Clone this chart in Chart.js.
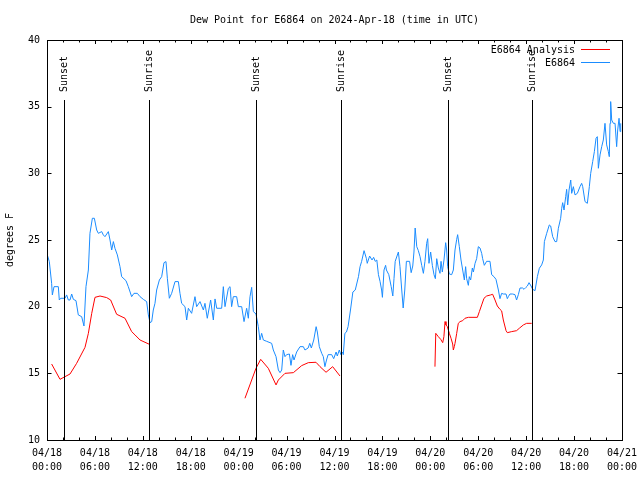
<!DOCTYPE html>
<html>
<head>
<meta charset="utf-8">
<script src="https://cdn.jsdelivr.net/npm/chart.js@4.4.1/dist/chart.umd.min.js"></script>
<style>
  html, body { margin: 0; padding: 0; background: #fff; }
</style>
</head>
<body>
<canvas id="dew-chart" width="640" height="480"></canvas>
<script>
// time axis = hours after 2024-04-18 00:00 UTC
const stationHours = [0, 0.29, 0.58, 0.67, 0.88, 1.42, 1.54, 1.71, 2.25, 2.46, 2.67, 2.88, 3.09, 3.3, 3.63, 3.92, 4.34, 4.63, 4.88, 5.18,
  5.38, 5.68, 5.93, 6.22, 6.43, 6.85, 7.05, 7.26, 7.68, 7.89, 8.1, 8.31, 8.51, 8.81, 9.14, 9.35, 9.89, 10.18, 10.6, 10.89,
  11.31, 11.65, 12.06, 12.48, 12.69, 12.9, 13.11, 13.31, 13.52, 13.73, 14.07, 14.36, 14.65, 14.9, 15.07, 15.32, 15.61, 16.03, 16.45, 16.65,
  16.86, 17.28, 17.49, 17.7, 18.11, 18.53, 18.74, 19.16, 19.58, 19.78, 20.07, 20.49, 20.83, 21.04, 21.25, 21.87, 22.08, 22.29, 22.71, 22.92,
  23.12, 23.33, 23.75, 23.96, 24.38, 24.67, 25.0, 25.21, 25.42, 25.63, 25.84, 26.17, 26.46, 26.67, 26.88, 27.09, 27.51, 28.13, 28.34, 28.68,
  28.97, 29.18, 29.39, 29.59, 29.8, 30.0, 30.35, 30.55, 30.76, 30.93, 31.26, 31.68, 32.1, 32.3, 32.7, 32.9, 33.1, 33.4, 33.7, 33.85,
  34.1, 34.4, 34.6, 34.8, 35.0, 35.2, 35.65, 35.9, 36.2, 36.35, 36.6, 36.8, 37.0, 37.1, 37.3, 37.5, 37.7, 38.0, 38.3, 38.6,
  39.0, 39.2, 39.4, 39.7, 40.0, 40.1, 40.4, 40.7, 40.9, 41.1, 41.3, 41.5, 41.7, 41.9, 42.0, 42.2, 42.4, 42.5, 42.8, 43.1,
  43.3, 43.45, 43.6, 44.0, 44.2, 44.4, 44.6, 44.8, 45.0, 45.4, 45.6, 45.8, 45.95, 46.1, 46.3, 46.5, 46.71, 46.92, 47.13, 47.33,
  47.54, 47.67, 47.83, 48.04, 48.25, 48.46, 48.63, 48.8, 49.0, 49.21, 49.34, 49.5, 49.71, 49.92, 50.04, 50.17, 50.38, 50.67, 50.88, 51.09,
  51.3, 51.42, 51.63, 51.84, 52.05, 52.26, 52.42, 52.55, 52.76, 52.88, 53.05, 53.26, 53.39, 53.6, 53.8, 54.01, 54.22, 54.43, 54.55, 54.76,
  55.05, 55.47, 55.68, 55.97, 56.22, 56.52, 56.72, 56.93, 57.14, 57.48, 57.64, 57.77, 57.97, 58.31, 58.6, 58.8, 59.02, 59.23, 59.56, 59.73,
  59.98, 60.15, 60.36, 60.61, 60.82, 61.11, 61.4, 61.65, 61.94, 62.15, 62.28, 62.57, 62.9, 63.07, 63.32, 63.61, 63.82, 64.03, 64.32, 64.45,
  64.57, 64.74, 64.95, 65.07, 65.2, 65.37, 65.58, 65.7, 65.91, 66.12, 66.41, 66.74, 66.95, 67.08, 67.37, 67.66, 67.91, 68.08, 68.33, 68.54,
  68.75, 68.91, 69.04, 69.25, 69.46, 69.66, 69.87, 70.08, 70.29, 70.41, 70.5, 70.58, 70.71, 70.92, 71.13, 71.33, 71.46, 71.63, 71.76, 71.84];
const stationDew = [23.95, 23.38, 21.75, 20.88, 21.5, 21.5, 20.5, 20.63, 20.63, 20.88, 20.5, 20.5, 20.95, 20.55, 20.45, 19.38, 19.25, 18.55, 21.5, 22.75,
  25.5, 26.63, 26.63, 25.75, 25.5, 25.63, 25.38, 25.25, 25.63, 25.0, 24.25, 24.88, 24.38, 23.88, 23.0, 22.25, 21.95, 21.5, 20.75, 21.0,
  21.0, 20.75, 20.55, 20.38, 19.38, 18.8, 18.88, 19.75, 20.25, 21.25, 22.0, 22.25, 23.3, 23.38, 22.13, 20.63, 21.0, 21.88, 21.88, 21.0,
  20.25, 20.0, 19.0, 19.88, 19.5, 20.75, 20.0, 20.38, 19.75, 20.25, 19.13, 20.5, 19.0, 20.58, 19.88, 19.88, 21.5, 20.0, 21.38, 21.5,
  20.0, 20.75, 20.75, 20.0, 20.0, 18.88, 19.88, 19.13, 20.75, 21.45, 19.63, 19.45, 18.5, 17.5, 18.0, 17.5, 17.4, 17.25, 16.75, 16.25,
  15.25, 15.05, 15.25, 16.75, 16.25, 16.4, 16.45, 15.6, 16.4, 16.0, 16.6, 17.0, 17.0, 16.75, 16.9, 17.25, 16.9, 17.5, 18.5, 18.1,
  17.0, 16.5, 16.25, 15.5, 16.0, 16.4, 16.4, 16.1, 16.6, 16.3, 16.75, 16.4, 16.6, 16.4, 18.0, 18.1, 18.5, 19.75, 21.1, 21.25,
  22.25, 23.0, 23.4, 24.2, 23.6, 23.25, 23.8, 23.5, 23.7, 23.4, 23.5, 22.4, 21.9, 21.25, 20.7, 22.75, 23.1, 22.75, 22.4, 21.5,
  20.8, 22.1, 23.4, 24.1, 23.0, 21.4, 19.9, 21.25, 23.4, 23.4, 22.55, 23.05, 24.1, 25.9, 24.5, 24.2, 23.75, 23.1, 22.5, 23.4,
  24.75, 25.1, 23.25, 24.1, 23.1, 22.4, 22.1, 23.6, 22.9, 22.5, 23.4, 22.6, 23.5, 24.8, 24.25, 23.0, 22.45, 22.4, 22.75, 24.25,
  25.05, 25.4, 24.5, 23.5, 22.75, 22.0, 23.0, 22.1, 21.6, 22.25, 22.0, 22.9, 22.6, 23.25, 23.6, 24.5, 24.4, 24.0, 23.6, 23.1,
  23.4, 23.4, 22.4, 22.25, 22.05, 21.25, 20.6, 21.0, 20.95, 20.95, 20.6, 20.75, 20.95, 20.95, 20.9, 20.5, 20.9, 21.4, 21.4, 21.3,
  21.45, 21.55, 21.8, 21.55, 21.3, 21.2, 22.25, 22.88, 23.13, 23.5, 24.88, 25.5, 26.13, 26.05, 25.25, 24.88, 24.88, 25.88, 26.63, 27.38,
  27.8, 27.25, 28.25, 28.8, 27.63, 28.75, 29.5, 28.5, 29.0, 28.38, 28.5, 29.0, 29.25, 29.0, 27.88, 27.75, 29.0, 30.0, 30.88, 31.63,
  32.63, 32.75, 30.38, 31.38, 32.0, 32.5, 33.75, 32.13, 31.63, 31.25, 33.75, 35.38, 34.0, 33.75, 33.75, 32.0, 33.25, 34.13, 33.13, 33.75];

// analysis series, null = no analysis (night gaps)
const analysisHours = [0.58, 1.63, 2.25, 2.88, 3.71, 4.76, 5.18, 5.6, 6.01, 6.64, 7.47, 7.97, 8.72, 9.77, 10.6, 11.02, 11.65, 12.81,
  18.8,
  24.79, 26.17, 26.76, 27.71, 28.68, 28.97, 29.8, 30.85, 31.89, 32.72, 33.68, 34.19, 34.94, 35.77, 36.69,
  42.6,
  48.58, 48.68, 49.0, 49.3, 49.55, 49.7, 49.84, 49.96, 50.13, 50.38, 50.59, 50.8, 50.88, 51.0, 51.09, 51.3, 51.5, 51.72, 52.05, 52.34,
  52.76, 53.89, 54.14, 54.43, 54.72, 55.05, 55.55, 55.8, 56.1, 56.39, 56.72, 56.93, 57.14, 57.48, 57.64, 58.19, 58.8, 59.14, 59.65, 60.06, 60.69];
const analysisDew = [15.7, 14.55, 14.75, 14.95, 15.75, 16.95, 18.0, 19.5, 20.7, 20.8, 20.68, 20.5, 19.43, 19.13, 18.13, 17.88, 17.5, 17.18,
  null,
  13.13, 15.38, 16.05, 15.38, 14.13, 14.5, 15.0, 15.05, 15.58, 15.8, 15.83, 15.5, 15.08, 15.5, 14.8,
  null,
  15.5, 18.0, 17.75, 17.55, 17.3, 17.75, 18.88, 18.63, 18.5, 18.0, 17.63, 17.2, 16.75, 17.0, 17.25, 18.0, 18.75, 18.88, 18.95, 19.13,
  19.2, 19.2, 19.63, 20.13, 20.63, 20.8, 20.88, 20.93, 20.5, 20.05, 19.8, 19.68, 19.0, 18.2, 18.05, 18.13, 18.2, 18.38, 18.63, 18.75, 18.75];

const sunHours = [2.17, 12.81, 26.2, 36.86, 50.26, 60.78];
const sunLabels = ['Sunset', 'Sunrise', 'Sunset', 'Sunrise', 'Sunset', 'Sunrise'];

const tickDates = ['04/18', '04/18', '04/18', '04/18', '04/19', '04/19', '04/19', '04/19', '04/20', '04/20', '04/20', '04/20', '04/21'];
const tickTimes = ['00:00', '06:00', '12:00', '18:00', '00:00', '06:00', '12:00', '18:00', '00:00', '06:00', '12:00', '18:00', '00:00'];

const FONT = '10px "DejaVu Sans Mono", "Liberation Mono", monospace';
const RED = '#ff0000';
const BLUE = '#1a8cff';

Chart.defaults.font.family = '"DejaVu Sans Mono", "Liberation Mono", monospace';
Chart.defaults.font.size = 10;
Chart.defaults.color = '#000';

// frame, ticks, title, legend and sunrise/sunset markers in gnuplot style
const gnuplotDecor = {
  id: 'gnuplotDecor',
  afterDatasetsDraw(chart) {
    const ctx = chart.ctx;
    const area = chart.chartArea;
    const xs = chart.scales.x;
    const ys = chart.scales.y;
    ctx.save();
    ctx.strokeStyle = '#000';
    ctx.lineWidth = 1;

    // sunrise / sunset lines
    ctx.font = FONT;
    ctx.fillStyle = '#000';
    sunHours.forEach((h, i) => {
      const x = Math.round(xs.getPixelForValue(h)) + 0.5;
      const top = ys.getPixelForValue(35.5);
      ctx.beginPath();
      ctx.moveTo(x, top);
      ctx.lineTo(x, area.bottom);
      ctx.stroke();
      ctx.save();
      ctx.translate(x, top - 8);
      ctx.rotate(-Math.PI / 2);
      ctx.textAlign = 'left';
      ctx.textBaseline = 'middle';
      ctx.fillText(sunLabels[i], 0, 0);
      ctx.restore();
    });

    // border
    ctx.strokeRect(Math.round(area.left) + 0.5, Math.round(area.top) + 0.5,
      Math.round(area.right - area.left), Math.round(area.bottom - area.top));

    // tick marks on all four sides
    ctx.beginPath();
    for (let h = xs.min; h <= xs.max; h += 2) {
      const x = Math.round(xs.getPixelForValue(h)) + 0.5;
      const len = h % 6 === 0 ? 4 : 2.5;
      ctx.moveTo(x, area.bottom); ctx.lineTo(x, area.bottom - len);
      ctx.moveTo(x, area.top); ctx.lineTo(x, area.top + len);
    }
    ys.ticks.forEach(t => {
      const y = Math.round(ys.getPixelForValue(t.value)) + 0.5;
      ctx.moveTo(area.left, y); ctx.lineTo(area.left + 4.5, y);
      ctx.moveTo(area.right, y); ctx.lineTo(area.right - 4.5, y);
    });
    ctx.stroke();

    // title
    ctx.textAlign = 'center';
    ctx.textBaseline = 'middle';
    ctx.fillText('Dew Point for E6864 on 2024-Apr-18 (time in UTC)', (area.left + area.right) / 2, 20);

    // legend
    const names = chart.data.datasets.map(d => d.label);
    chart.data.datasets.forEach((d, i) => {
      const y = area.top + 10 + i * 13;
      ctx.textAlign = 'right';
      ctx.fillStyle = '#000';
      ctx.fillText(names[i], area.right - 47, y);
      ctx.strokeStyle = d.borderColor;
      ctx.beginPath();
      ctx.moveTo(area.right - 41, Math.round(y) - 0.5);
      ctx.lineTo(area.right - 12, Math.round(y) - 0.5);
      ctx.stroke();
    });
    ctx.restore();
  }
};

new Chart(document.getElementById('dew-chart'), {
  type: 'line',
  data: {
    datasets: [{
      label: 'E6864 Analysis',
      data: analysisHours.map((h, i) => ({ x: h, y: analysisDew[i] })),
      borderColor: RED,
      borderWidth: 1,
      pointRadius: 0,
      tension: 0,
      spanGaps: false
    }, {
      label: 'E6864',
      data: stationHours.map((h, i) => ({ x: h, y: stationDew[i] })),
      borderColor: BLUE,
      borderWidth: 1,
      pointRadius: 0,
      tension: 0
    }]
  },
  plugins: [gnuplotDecor],
  options: {
    responsive: false,
    animation: false,
    events: [],
    layout: { padding: { top: 40, right: 18, left: 0, bottom: 0 } },
    plugins: {
      legend: { display: false },
      title: { display: false },
      tooltip: { enabled: false }
    },
    scales: {
      x: {
        type: 'linear',
        min: 0,
        max: 72,
        grid: { display: false, drawTicks: false },
        border: { display: false },
        afterFit(scale) {
          scale.height = 40;
          scale.paddingLeft = 0;
          scale.paddingRight = 0;
        },
        ticks: {
          stepSize: 6,
          autoSkip: false,
          maxRotation: 0,
          padding: 7,
          font: { lineHeight: 1.35 },
          callback: (v) => [tickDates[v / 6], tickTimes[v / 6]]
        }
      },
      y: {
        min: 10,
        max: 40,
        grid: { display: false, drawTicks: false },
        border: { display: false },
        afterFit(scale) { scale.width = 47; },
        title: {
          display: true,
          text: 'degrees F',
          padding: { top: 4, bottom: 0 }
        },
        ticks: {
          stepSize: 5,
          padding: 7
        }
      }
    }
  }
});
</script>
</body>
</html>
